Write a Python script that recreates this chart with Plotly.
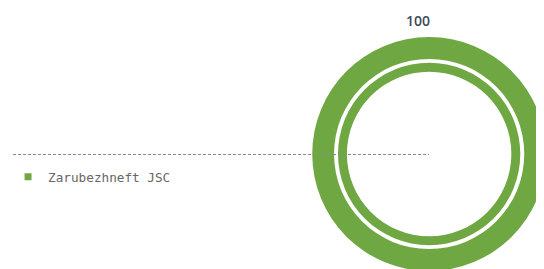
import plotly.graph_objects as go

# ---- data ----
company = ["Zarubezhneft JSC"]
values = [100]
label_text = [str(v) for v in values]

# ---- layout constants (pixels, figure coordinates; page adds an 8px body margin) ----
W, H = 544, 269
OFF = 8
GREEN = "#6fa843"
CX, CY = 428 - OFF, 154 - OFF   # ring centre (from left, from top)
R_OUT, R_OUT_IN = 118, 96       # outer ring radii
R_IN, R_IN_IN = 92, 83          # inner ring radii


def dom(r):
    cyb = H - CY
    return dict(x=[(CX - r) / W, min(1.0, (CX + r) / W)],
                y=[max(0.0, (cyb - r) / H), min(1.0, (cyb + r) / H)])


fig = go.Figure()
fig.add_trace(go.Pie(labels=company, values=values, hole=R_OUT_IN / R_OUT,
                     domain=dom(R_OUT), marker=dict(colors=[GREEN]),
                     textinfo="none", sort=False, showlegend=False,
                     hoverinfo="label+value"))
fig.add_trace(go.Pie(labels=company, values=values, hole=R_IN_IN / R_IN,
                     domain=dom(R_IN), marker=dict(colors=[GREEN]),
                     textinfo="none", sort=False, showlegend=False,
                     hoverinfo="label+value"))
# legend entry
fig.add_trace(go.Scatter(x=[None], y=[None], mode="markers", name=company[0],
                         marker=dict(symbol="square", size=7, color=GREEN),
                         showlegend=True))

ly = (H - CY - 0.5) / H
fig.add_shape(type="line", xref="paper", yref="paper",
              x0=0, x1=CX / W, y0=ly, y1=ly,
              line=dict(color="#8a8a8a", width=1, dash="3px,2px"), layer="above")

fig.add_annotation(xref="paper", yref="paper", x=(416.7 - OFF) / W, y=(H - (20 - OFF)) / H,
                   text=label_text[0], showarrow=False, xanchor="center", yanchor="middle",
                   font=dict(family="Open Sans", size=14, color="#3b4a5a", weight=600))

fig.update_layout(
    width=W, height=H, margin=dict(l=0, r=0, t=0, b=0),
    paper_bgcolor="white", plot_bgcolor="white",
    xaxis=dict(visible=False), yaxis=dict(visible=False),
    legend=dict(x=-5 / W, y=(H - 154) / H, xanchor="left", yanchor="top",
                font=dict(family="DejaVu Sans Mono", size=12.7, color="#666666"),
                bgcolor="rgba(0,0,0,0)"),
)
fig.write_html("out.html")
